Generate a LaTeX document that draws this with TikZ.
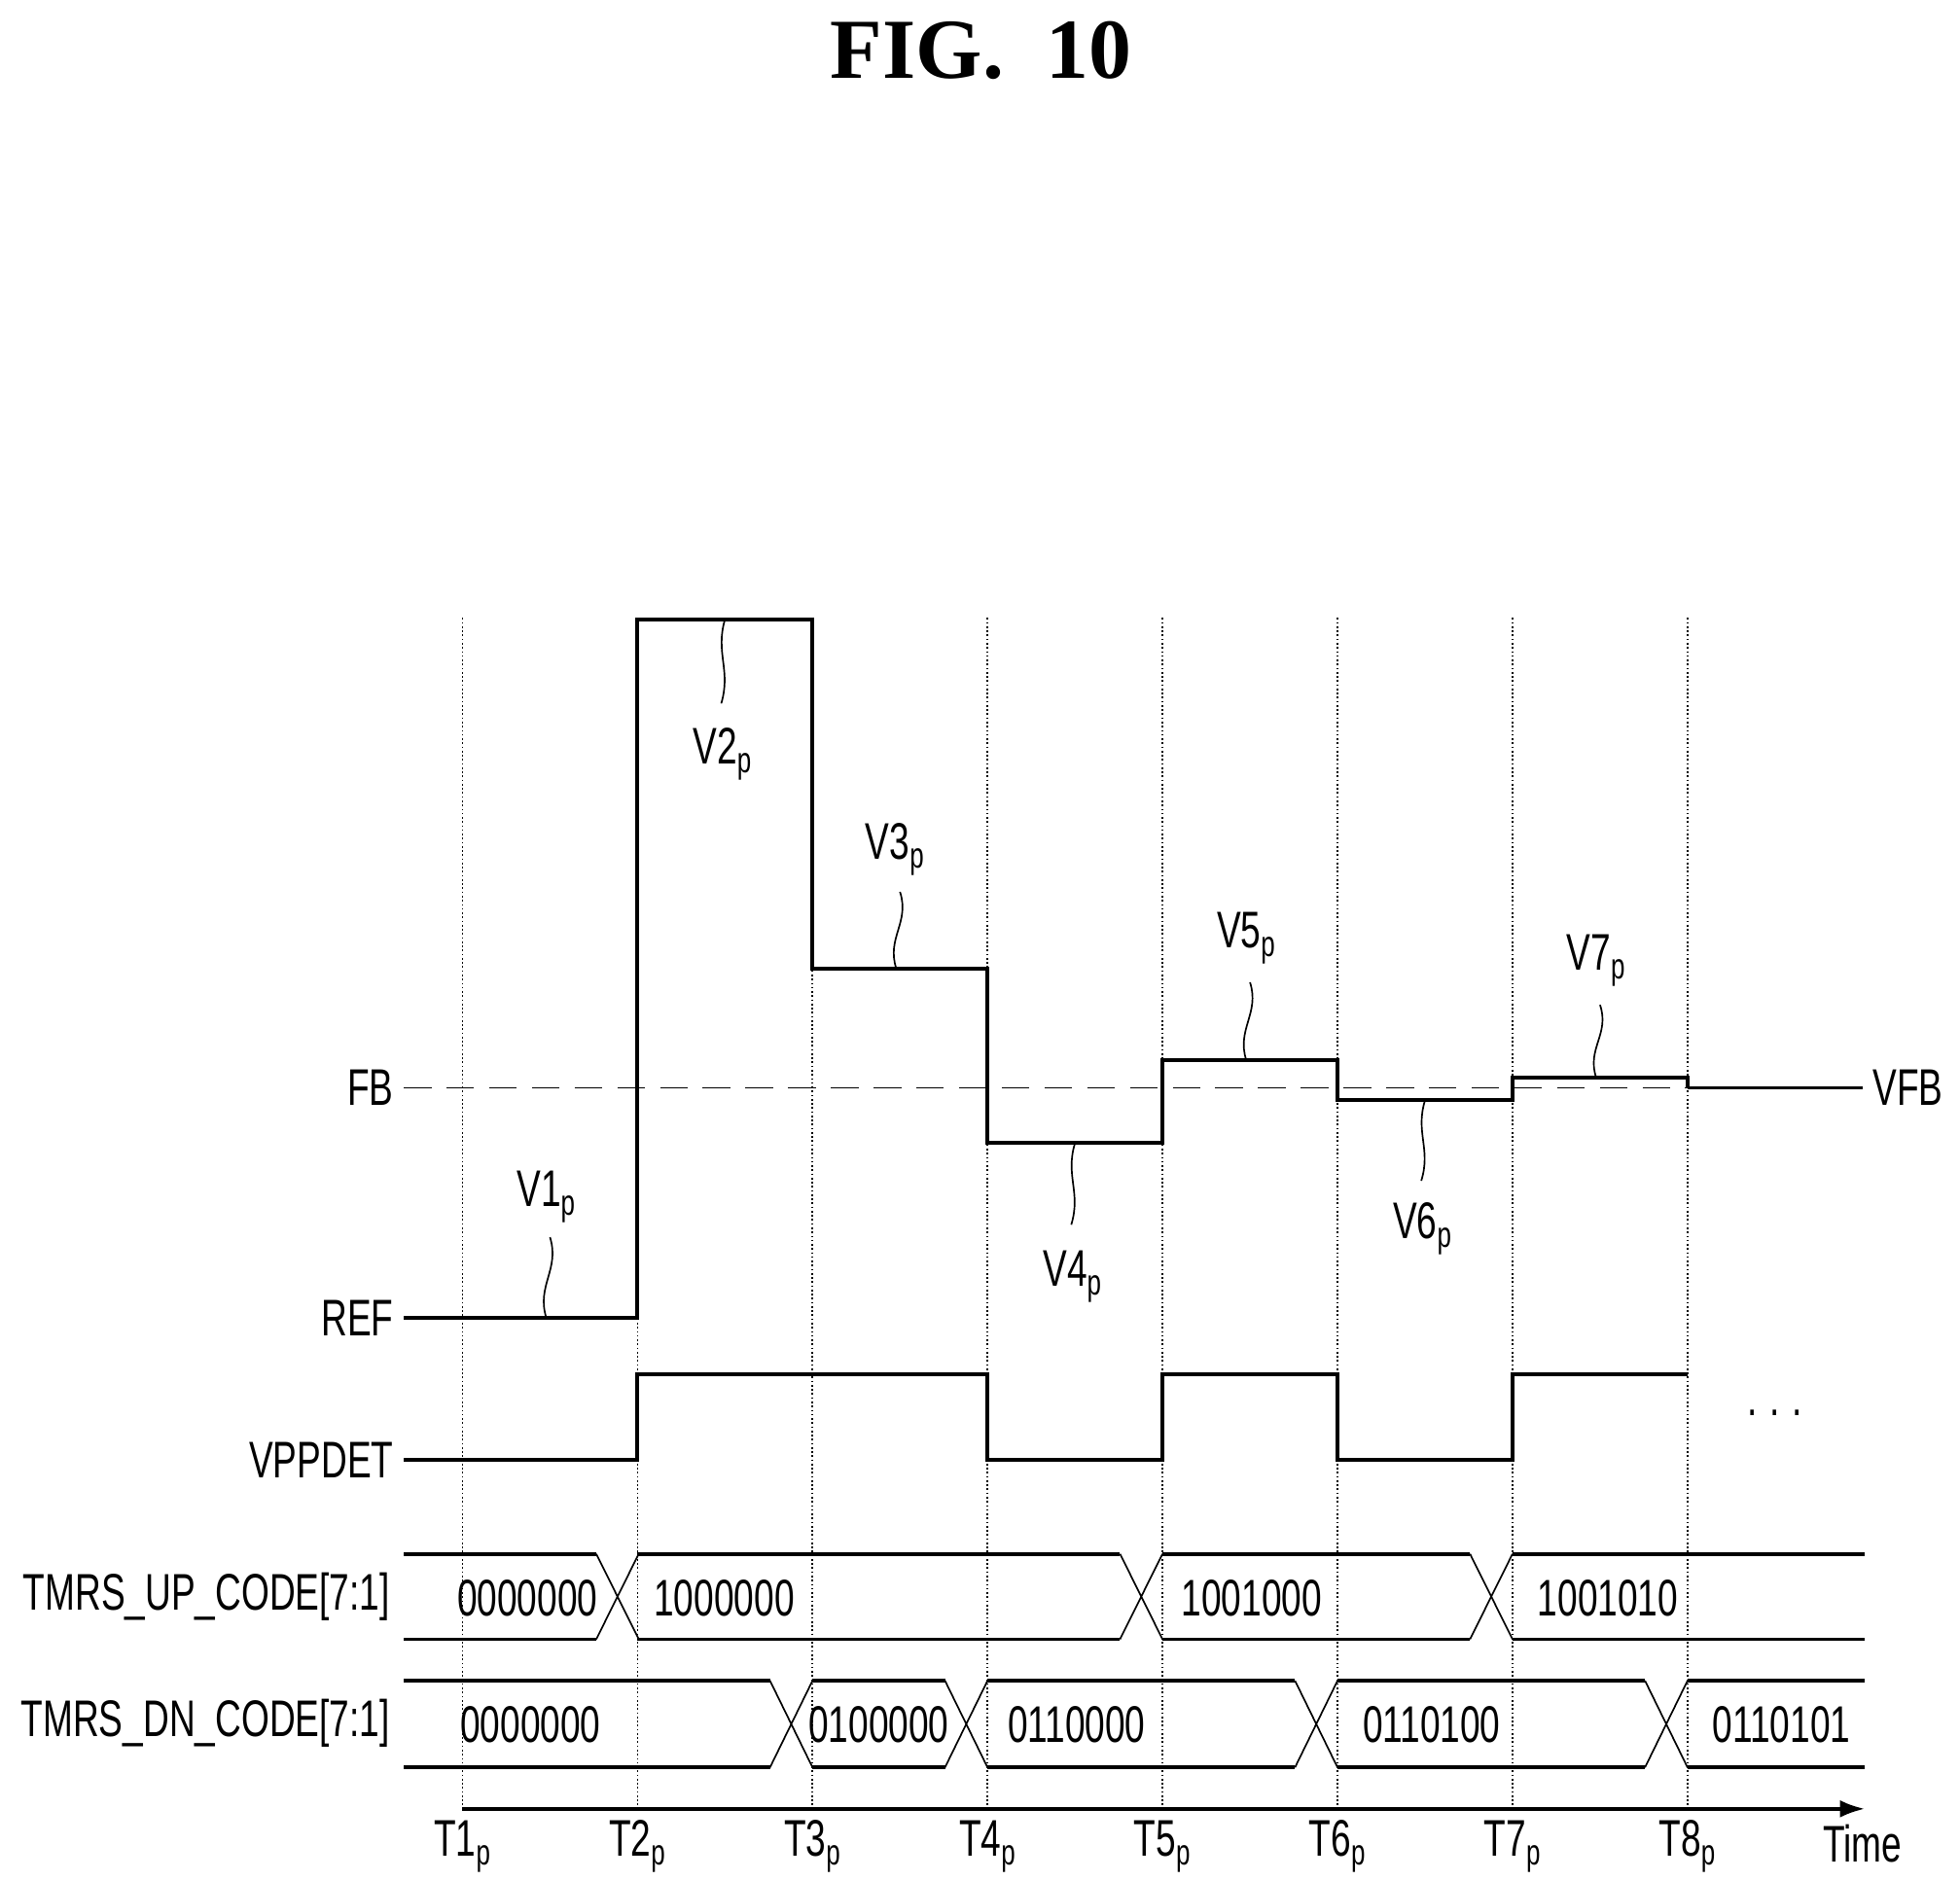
\documentclass[tikz,border=0pt]{standalone}
\usepackage{fontspec}
\usetikzlibrary{arrows.meta}
\setmainfont[FakeStretch=0.70]{Liberation Sans}
\newfontfamily\titlefont{Liberation Serif}
\begin{document}
\begin{tikzpicture}[x=0.995pt,y=-1pt,
  sig/.style={line width=3pt,line join=miter},
  bus/.style={line width=3pt},
  xing/.style={line width=1.3pt},
  grid/.style={line width=1.3pt,dotted},
  lead/.style={line width=1.3pt},
  lbl/.style={font=\fontsize{41}{41}\selectfont,inner sep=0pt}]
\useasboundingbox (0,0) rectangle (1568,1496);
\node[font=\titlefont\bfseries\fontsize{68}{68}\selectfont] (title) at (785,40) {FIG.\ \ 10};
% grid
\foreach \x in {370,510,650,790,930,1070,1210,1350}
  \draw[grid] (\x,492) -- (\x,1440);
% FB dashed
\draw[line width=1.5pt,dash pattern=on 22pt off 12pt] (323,866) -- (1350,866);
\draw[sig] (1350,866) -- (1490,866);
% main waveform
\draw[sig] (323,1049) -- (510,1049) -- (510,493) -- (650,493) -- (650,771) -- (790,771) -- (790,910)
  -- (930,910) -- (930,844) -- (1070,844) -- (1070,876) -- (1210,876) -- (1210,858) -- (1350,858) -- (1350,866);
% VPPDET
\draw[sig] (323,1162) -- (510,1162) -- (510,1094) -- (790,1094) -- (790,1162) -- (930,1162) -- (930,1094)
  -- (1070,1094) -- (1070,1162) -- (1210,1162) -- (1210,1094) -- (1350,1094);
% labels left
\node[lbl,anchor=east] (fb) at (315,866) {FB};
\node[lbl,anchor=east] (ref) at (315,1049) {REF};
\node[lbl,anchor=east] (vpp) at (315,1162) {VPPDET};
\node[lbl,anchor=east] (up) at (312,1271) {TMRS\_UP\_CODE[7:1]};
\node[lbl,anchor=east] (dn) at (312,1372) {TMRS\_DN\_CODE[7:1]};
\node[lbl,anchor=west] (vfb) at (1498,866) {VFB};
\node[lbl] (dots) at (1420,1125) {.\hspace{10pt}.\hspace{10pt}.};
% UP bus
\draw[bus] (323,1237) -- (477,1237) (510,1237) -- (896,1237) (930,1237) -- (1176,1237) (1210,1237) -- (1492,1237);
\draw[bus] (323,1305) -- (477,1305) (510,1305) -- (896,1305) (930,1305) -- (1176,1305) (1210,1305) -- (1492,1305);
\foreach \a in {477,896,1176}
  \draw[xing] (\a,1237) -- (\a+34,1305) (\a,1305) -- (\a+34,1237);
% DN bus
\draw[bus] (323,1338) -- (616,1338) (650,1338) -- (756,1338) (790,1338) -- (1036,1338) (1070,1338) -- (1316,1338) (1350,1338) -- (1492,1338);
\draw[bus] (323,1407) -- (616,1407) (650,1407) -- (756,1407) (790,1407) -- (1036,1407) (1070,1407) -- (1316,1407) (1350,1407) -- (1492,1407);
\foreach \a in {616,756,1036,1316}
  \draw[xing] (\a,1338) -- (\a+34,1407) (\a,1407) -- (\a+34,1338);
% bus values
\node[lbl] (u1) at (422,1272) {0000000};
\node[lbl,anchor=west] (u2) at (523,1272) {1000000};
\node[lbl,anchor=west] (u3) at (945,1272) {1001000};
\node[lbl,anchor=west] (u4) at (1230,1272) {1001010};
\node[lbl,anchor=west] (d1) at (368,1373) {0000000};
\node[lbl] (d2) at (703,1373) {0100000};
\node[lbl,anchor=west] (d3) at (806,1373) {0110000};
\node[lbl,anchor=west] (d4) at (1090,1373) {0110100};
\node[lbl,anchor=west] (d5) at (1370,1373) {0110101};
% time axis
\coordinate (t0) at (370,1440);
\coordinate (tend) at (1492,1440);
\draw[line width=3pt,-{Latex[length=20pt,width=14pt]}] (t0) -- (tend);
\foreach \x/\n in {370/1,510/2,650/3,790/4,930/5,1070/6,1210/7,1350/8}
  \node[lbl] (T\n) at (\x,1470) {T\n\textsubscript{p}};
\node[lbl] (time) at (1490,1468) {Time};
% leaders
\newcommand{\leader}[5]{% x1,y1,x2,y2,name
  \draw[lead] (#1,#2) .. controls (#1-8,{#2+0.4*(#4-#2)}) and (#3+8,{#2+0.6*(#4-#2)}) .. (#3,#4);}
\leader{437}{1049}{440}{985}{}
\leader{580}{493}{577}{560}{}
\leader{717}{771}{720}{710}{}
\leader{860}{910}{857}{975}{}
\leader{997}{844}{1000}{782}{}
\leader{1140}{876}{1137}{940}{}
\leader{1277}{858}{1280}{800}{}
\node[lbl] (v1) at (437,953) {V1\textsubscript{p}};
\node[lbl] (v2) at (578,600) {V2\textsubscript{p}};
\node[lbl] (v3) at (716,676) {V3\textsubscript{p}};
\node[lbl] (v4) at (858,1016) {V4\textsubscript{p}};
\node[lbl] (v5) at (997,747) {V5\textsubscript{p}};
\node[lbl] (v6) at (1138,978) {V6\textsubscript{p}};
\node[lbl] (v7) at (1277,765) {V7\textsubscript{p}};
\end{tikzpicture}
\end{document}
